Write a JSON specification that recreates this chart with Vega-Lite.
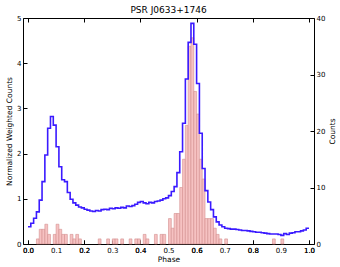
{
  "$schema": "https://vega.github.io/schema/vega-lite/v6.json",
  "autosize": {"type": "none"},
  "width": 291,
  "height": 226,
  "padding": {"left": 23, "top": 18, "right": 26, "bottom": 23},
  "background": "white",
  "config": {
    "font": "DejaVu Sans",
    "view": {"stroke": "#000", "strokeWidth": 1},
    "axis": {
      "grid": false,
      "domain": false,
      "tickColor": "#000",
      "tickSize": -4,
      "labelPadding": 6,
      "labelFontSize": 7,
      "labelColor": "#000",
      "titleFontSize": 7.5,
      "titleFontWeight": "normal",
      "titleColor": "#000"
    }
  },
  "title": {"text": "PSR J0633+1746", "fontSize": 9, "fontWeight": "normal", "color": "#000", "offset": -1},
  "datasets": {
    "counts": [
      {"lo": 0.03, "hi": 0.04, "count": 0.9},
      {"lo": 0.04, "hi": 0.05, "count": 2.6},
      {"lo": 0.05, "hi": 0.06, "count": 2.6},
      {"lo": 0.06, "hi": 0.07, "count": 3.5},
      {"lo": 0.07, "hi": 0.08, "count": 1.7},
      {"lo": 0.09, "hi": 0.10, "count": 1.7},
      {"lo": 0.10, "hi": 0.11, "count": 3.5},
      {"lo": 0.11, "hi": 0.12, "count": 2.6},
      {"lo": 0.12, "hi": 0.13, "count": 1.7},
      {"lo": 0.13, "hi": 0.14, "count": 1.7},
      {"lo": 0.15, "hi": 0.16, "count": 1.7},
      {"lo": 0.16, "hi": 0.17, "count": 0.9},
      {"lo": 0.17, "hi": 0.18, "count": 1.7},
      {"lo": 0.18, "hi": 0.19, "count": 0.9},
      {"lo": 0.25, "hi": 0.26, "count": 0.9},
      {"lo": 0.28, "hi": 0.29, "count": 0.9},
      {"lo": 0.30, "hi": 0.31, "count": 0.9},
      {"lo": 0.31, "hi": 0.32, "count": 0.9},
      {"lo": 0.33, "hi": 0.34, "count": 0.9},
      {"lo": 0.36, "hi": 0.37, "count": 0.9},
      {"lo": 0.38, "hi": 0.39, "count": 0.9},
      {"lo": 0.39, "hi": 0.40, "count": 0.9},
      {"lo": 0.41, "hi": 0.42, "count": 1.7},
      {"lo": 0.42, "hi": 0.43, "count": 0.9},
      {"lo": 0.45, "hi": 0.46, "count": 1.7},
      {"lo": 0.47, "hi": 0.48, "count": 1.7},
      {"lo": 0.48, "hi": 0.49, "count": 1.7},
      {"lo": 0.50, "hi": 0.51, "count": 4.5},
      {"lo": 0.51, "hi": 0.52, "count": 2.8},
      {"lo": 0.52, "hi": 0.53, "count": 5.4},
      {"lo": 0.53, "hi": 0.54, "count": 5.4},
      {"lo": 0.54, "hi": 0.55, "count": 10},
      {"lo": 0.55, "hi": 0.56, "count": 15},
      {"lo": 0.56, "hi": 0.57, "count": 21},
      {"lo": 0.57, "hi": 0.58, "count": 35},
      {"lo": 0.58, "hi": 0.59, "count": 36.5},
      {"lo": 0.59, "hi": 0.60, "count": 27},
      {"lo": 0.60, "hi": 0.61, "count": 23},
      {"lo": 0.61, "hi": 0.62, "count": 15},
      {"lo": 0.62, "hi": 0.63, "count": 11.5},
      {"lo": 0.63, "hi": 0.64, "count": 4.5},
      {"lo": 0.64, "hi": 0.65, "count": 4.5},
      {"lo": 0.65, "hi": 0.66, "count": 4.5},
      {"lo": 0.66, "hi": 0.67, "count": 2.8},
      {"lo": 0.67, "hi": 0.68, "count": 1.7},
      {"lo": 0.68, "hi": 0.69, "count": 0.9},
      {"lo": 0.70, "hi": 0.71, "count": 0.9},
      {"lo": 0.87, "hi": 0.88, "count": 0.9},
      {"lo": 0.90, "hi": 0.91, "count": 0.9}
    ],
    "curve": [
      {"phase": 0.00, "value": 0.38}, {"phase": 0.01, "value": 0.46}, {"phase": 0.02, "value": 0.57},
      {"phase": 0.03, "value": 0.71}, {"phase": 0.04, "value": 0.97}, {"phase": 0.05, "value": 1.38},
      {"phase": 0.06, "value": 1.97}, {"phase": 0.07, "value": 2.56}, {"phase": 0.08, "value": 2.82},
      {"phase": 0.09, "value": 2.63}, {"phase": 0.10, "value": 2.15}, {"phase": 0.11, "value": 1.71},
      {"phase": 0.12, "value": 1.42}, {"phase": 0.13, "value": 1.38}, {"phase": 0.14, "value": 1.14},
      {"phase": 0.15, "value": 0.99}, {"phase": 0.16, "value": 0.91}, {"phase": 0.17, "value": 0.86},
      {"phase": 0.18, "value": 0.82}, {"phase": 0.19, "value": 0.80}, {"phase": 0.20, "value": 0.77},
      {"phase": 0.21, "value": 0.75}, {"phase": 0.22, "value": 0.73}, {"phase": 0.23, "value": 0.72},
      {"phase": 0.24, "value": 0.74}, {"phase": 0.25, "value": 0.73}, {"phase": 0.26, "value": 0.76},
      {"phase": 0.27, "value": 0.77}, {"phase": 0.28, "value": 0.76}, {"phase": 0.29, "value": 0.79},
      {"phase": 0.30, "value": 0.78}, {"phase": 0.31, "value": 0.80}, {"phase": 0.32, "value": 0.79},
      {"phase": 0.33, "value": 0.81}, {"phase": 0.34, "value": 0.80}, {"phase": 0.35, "value": 0.84},
      {"phase": 0.36, "value": 0.83}, {"phase": 0.37, "value": 0.85}, {"phase": 0.38, "value": 0.88},
      {"phase": 0.39, "value": 0.92}, {"phase": 0.40, "value": 0.94}, {"phase": 0.41, "value": 0.91},
      {"phase": 0.42, "value": 0.89}, {"phase": 0.43, "value": 0.92}, {"phase": 0.44, "value": 0.91},
      {"phase": 0.45, "value": 0.94}, {"phase": 0.46, "value": 0.95}, {"phase": 0.47, "value": 0.97},
      {"phase": 0.48, "value": 1.00}, {"phase": 0.49, "value": 1.02}, {"phase": 0.50, "value": 1.07},
      {"phase": 0.51, "value": 1.16}, {"phase": 0.52, "value": 1.27}, {"phase": 0.53, "value": 1.58},
      {"phase": 0.54, "value": 2.04}, {"phase": 0.55, "value": 2.67}, {"phase": 0.56, "value": 3.65},
      {"phase": 0.57, "value": 4.46}, {"phase": 0.58, "value": 4.88}, {"phase": 0.59, "value": 4.42},
      {"phase": 0.60, "value": 3.55}, {"phase": 0.61, "value": 2.45}, {"phase": 0.62, "value": 1.67},
      {"phase": 0.63, "value": 1.18}, {"phase": 0.64, "value": 0.93}, {"phase": 0.65, "value": 0.76},
      {"phase": 0.66, "value": 0.60}, {"phase": 0.67, "value": 0.49}, {"phase": 0.68, "value": 0.42},
      {"phase": 0.69, "value": 0.38}, {"phase": 0.70, "value": 0.35}, {"phase": 0.71, "value": 0.34},
      {"phase": 0.72, "value": 0.33}, {"phase": 0.73, "value": 0.33}, {"phase": 0.74, "value": 0.32},
      {"phase": 0.75, "value": 0.31}, {"phase": 0.76, "value": 0.30}, {"phase": 0.77, "value": 0.30},
      {"phase": 0.78, "value": 0.29}, {"phase": 0.79, "value": 0.28}, {"phase": 0.80, "value": 0.27},
      {"phase": 0.81, "value": 0.26}, {"phase": 0.82, "value": 0.26}, {"phase": 0.83, "value": 0.25},
      {"phase": 0.84, "value": 0.24}, {"phase": 0.85, "value": 0.23}, {"phase": 0.86, "value": 0.22},
      {"phase": 0.87, "value": 0.22}, {"phase": 0.88, "value": 0.22}, {"phase": 0.89, "value": 0.21},
      {"phase": 0.90, "value": 0.19}, {"phase": 0.91, "value": 0.23}, {"phase": 0.92, "value": 0.21},
      {"phase": 0.93, "value": 0.24}, {"phase": 0.94, "value": 0.25}, {"phase": 0.95, "value": 0.27},
      {"phase": 0.96, "value": 0.27}, {"phase": 0.97, "value": 0.29}, {"phase": 0.98, "value": 0.31},
      {"phase": 0.99, "value": 0.35}, {"phase": 1.00, "value": 0.35}
    ]
  },
  "layer": [
    {
      "data": {"name": "counts"},
      "mark": {"type": "bar", "fill": "#f6c2c2", "stroke": "#d48f8f", "strokeWidth": 0.6, "orient": "vertical"},
      "encoding": {
        "x": {"field": "lo", "type": "quantitative", "scale": {"domain": [0, 1], "nice": false},
              "axis": {"orient": "top", "labels": false, "title": null, "values": [0, 0.2, 0.4, 0.6, 0.8, 1.0]}},
        "x2": {"field": "hi"},
        "y": {"field": "count", "type": "quantitative", "scale": {"domain": [0, 40], "nice": false},
              "axis": {"orient": "right", "title": "Counts", "values": [0, 10, 20, 30, 40], "titleAngle": 270, "titlePadding": 12}},
        "y2": {"datum": 0}
      }
    },
    {
      "data": {"name": "curve"},
      "mark": {"type": "line", "interpolate": "step-after", "color": "#3a1aff", "strokeWidth": 1.6},
      "encoding": {
        "x": {"field": "phase", "type": "quantitative", "scale": {"domain": [0, 1], "nice": false},
              "axis": {"orient": "bottom", "title": "Phase", "values": [0, 0.2, 0.4, 0.6, 0.8, 1.0], "format": ".1f", "titlePadding": 2}},
        "y": {"field": "value", "type": "quantitative", "scale": {"domain": [0, 5], "nice": false},
              "axis": {"orient": "left", "title": "Normalized Weighted Counts", "values": [0, 1, 2, 3, 4, 5], "titlePadding": 3}}
      }
    },
    {
      "mark": {"type": "text", "text": "PRELIMINARY", "color": "#ff0000", "fontWeight": "bold", "fontSize": 7, "align": "left", "baseline": "middle"},
      "encoding": {
        "x": {"datum": 0.03, "type": "quantitative"},
        "y": {"datum": 4.68, "type": "quantitative", "scale": {"domain": [0, 5], "nice": false}, "axis": null}
      }
    }
  ],
  "resolve": {"scale": {"y": "independent"}}
}
